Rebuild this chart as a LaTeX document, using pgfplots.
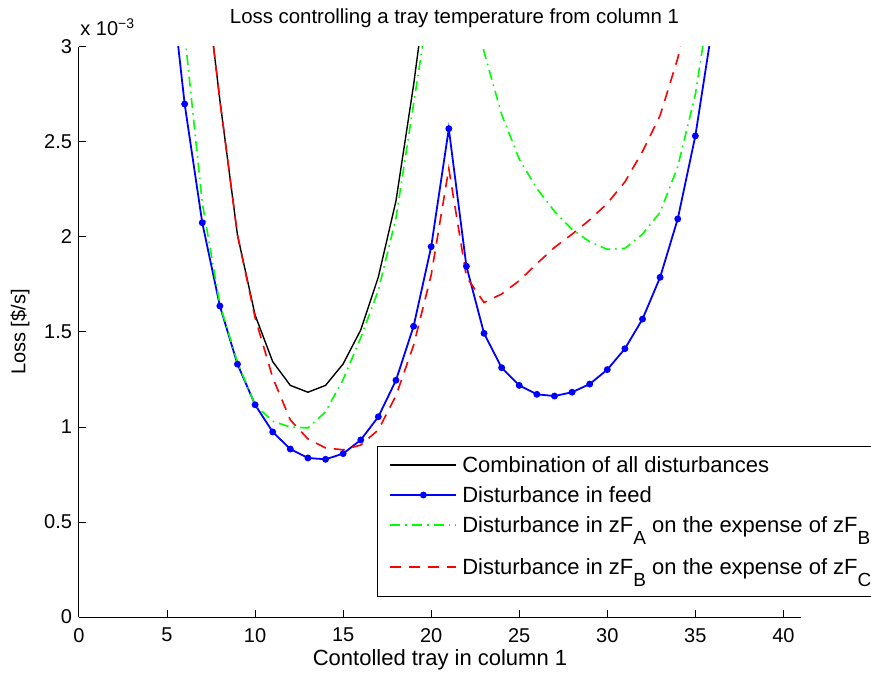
\documentclass[border=0pt]{standalone}
\usepackage{fontspec}
\setmainfont{Liberation Sans}
\usepackage{pgfplots}
\pgfplotsset{compat=1.18}
\newcommand\sub[1]{\raisebox{-6pt}{\fontsize{9.5}{10}\selectfont #1}}
\begin{document}
\fontsize{10}{12}\selectfont
\begin{tikzpicture}
\begin{axis}[
  at={(0,0)}, anchor=south west,
  scale only axis, width=361pt, height=285pt,
  xmin=0, xmax=41, ymin=0, ymax=3,
  axis x line*=bottom, axis y line*=left,
  axis line style={-, black, line width=0.5pt},
  xtick={0,5,...,40}, ytick={0,0.5,1,1.5,2,2.5,3},
  yticklabels={0,0.5,1,1.5,2,2.5,3},
  tick align=inside, major tick length=3.5pt,
  tick style={black, line width=0.5pt},
  /pgf/number format/assume math mode=true,
  ticklabel style={font=\fontsize{10}{12}\selectfont},
  xticklabel style={yshift=-2pt},
  title={Loss controlling a tray temperature from column 1},
  every axis title/.style={at={(axis description cs:0.52,1)}, anchor=center, yshift=14.5pt, font=\fontsize{10.2}{12}\selectfont},
  xlabel={Contolled tray in column 1},
  every axis x label/.style={at={(axis description cs:0.5,0)}, anchor=center, yshift=-21.5pt, font=\fontsize{11}{13}\selectfont},
  ylabel={Loss [\$/s]},
  every axis y label/.style={at={(axis description cs:-0.0817,0.5)}, anchor=center, rotate=90, font=\fontsize{10}{12}\selectfont},
  legend cell align=left,
  legend image code/.code={\draw[mark repeat=2,mark phase=2,#1] plot coordinates {(0cm,3.6pt) (0.58cm,3.6pt) (1.16cm,3.6pt)};},
  legend style={at={(axis description cs:0.4127,0.0351)}, anchor=south west, draw=black, line width=0.5pt, fill=white,
    font=\fontsize{11}{13}\selectfont, inner xsep=6pt, inner ysep=3pt, row sep=3pt, column sep=0.5pt,
    nodes={inner sep=2pt, text depth=}, cells={anchor=base west}},
]
\addplot[black, line width=0.7pt] coordinates {
(7,3.5) (8,2.72) (9,2.01) (10,1.589) (11,1.344) (12,1.219) (13,1.183) (14,1.219)
(15,1.332) (16,1.511) (17,1.79) (18,2.19) (19,2.8) (20,3.5)};
\addlegendentry{Combination of all disturbances}
\addplot[blue, line width=0.9pt, mark=*, mark size=1.25pt] coordinates {
(5,3.53) (6,2.70) (7,2.075) (8,1.637) (9,1.331) (10,1.117) (11,0.974) (12,0.884)
(13,0.837) (14,0.830) (15,0.860) (16,0.932) (17,1.054) (18,1.246) (19,1.530) (20,1.949)
(21,2.570) (22,1.846) (23,1.493) (24,1.312) (25,1.219) (26,1.172) (27,1.163) (28,1.183)
(29,1.226) (30,1.302) (31,1.412) (32,1.568) (33,1.788) (34,2.095) (35,2.532) (36,3.13)};
\addlegendentry{Disturbance in feed}
\addplot[green, line width=0.8pt, dash pattern=on 5pt off 2.5pt on 0.8pt off 2.5pt] coordinates {
(6,3.07) (7,2.18) (8,1.645) (9,1.34) (10,1.117) (11,1.03) (12,1.0) (13,0.995)
(14,1.08) (15,1.25) (16,1.47) (17,1.72) (18,2.10) (19,2.70) (20,3.3) (21,4.0)
(22,3.4) (23,2.975) (24,2.645) (25,2.41) (26,2.255) (27,2.135) (28,2.04) (29,1.975)
(30,1.935) (31,1.94) (32,2.015) (33,2.13) (34,2.37) (35,2.75) (36,3.35)};
\addlegendentry{Disturbance in zF\sub{A} on the expense of zF\sub{B}}
\addplot[red, line width=0.8pt, dash pattern=on 5.5pt off 4pt] coordinates {
(7,3.5) (8,2.72) (9,2.01) (10,1.575) (11,1.26) (12,1.037) (13,0.937) (14,0.89)
(15,0.88) (16,0.905) (17,0.985) (18,1.165) (19,1.43) (20,1.80) (21,2.36) (22,1.79)
(23,1.655) (24,1.70) (25,1.77) (26,1.86) (27,1.945) (28,2.015) (29,2.09) (30,2.177)
(31,2.29) (32,2.45) (33,2.64) (34,2.94) (35,3.4)};
\addlegendentry{Disturbance in zF\sub{B} on the expense of zF\sub{C}}
\end{axis}
\node[anchor=base west, inner sep=0pt] at (0.5pt,290.5pt) {x 10\textsuperscript{−3}};
\pgfresetboundingbox
\path[use as bounding box] (-39.5pt,-28.5pt) rectangle (396pt,308.5pt);
\end{tikzpicture}
\end{document}
